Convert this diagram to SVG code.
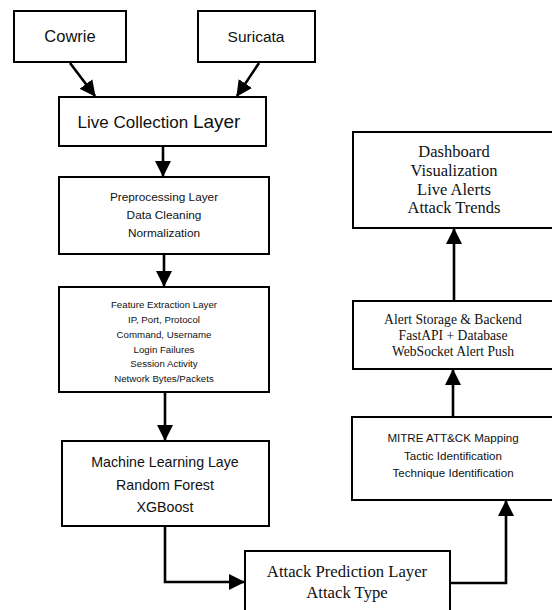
<svg xmlns="http://www.w3.org/2000/svg" width="552" height="610" viewBox="0 0 552 610">
<style>
.box{fill:#fff;stroke:#000;stroke-width:2}
.sans{font-family:"Liberation Sans",Arial,sans-serif;fill:#111;text-anchor:middle}
.serif{font-family:"Liberation Serif","Times New Roman",serif;fill:#111;text-anchor:middle}
.conn{fill:none;stroke:#000;stroke-width:2.6}
</style>
<defs>
<marker id="ah" markerUnits="userSpaceOnUse" markerWidth="16" markerHeight="16" viewBox="0 0 16 16" refX="15" refY="8" orient="auto">
<path d="M0,0 L16,8 L0,16 z" fill="#000"/>
</marker>
</defs>
<rect width="552" height="610" fill="#fff"/>
<g id="connectors">
<line class="conn" x1="70" y1="63" x2="95" y2="96" marker-end="url(#ah)"/>
<line class="conn" x1="259" y1="63" x2="237" y2="96" marker-end="url(#ah)"/>
<line class="conn" x1="163" y1="147" x2="163" y2="176" marker-end="url(#ah)"/>
<line class="conn" x1="164" y1="255" x2="164" y2="286" marker-end="url(#ah)"/>
<line class="conn" x1="165" y1="393" x2="165" y2="440" marker-end="url(#ah)"/>
<path class="conn" d="M165,527 V582 H244" marker-end="url(#ah)"/>
<path class="conn" d="M451,583 H506 V501" marker-end="url(#ah)"/>
<line class="conn" x1="453" y1="416" x2="453" y2="370" marker-end="url(#ah)"/>
<line class="conn" x1="454" y1="300" x2="454" y2="229" marker-end="url(#ah)"/>
</g>
<g id="cowrie">
<rect class="box" x="14" y="11" width="112" height="51"/>
<text class="sans" x="70" y="42" font-size="16.5">Cowrie</text>
</g>
<g id="suricata">
<rect class="box" x="198" y="11" width="117" height="51"/>
<text class="sans" x="256" y="42" font-size="15.5">Suricata</text>
</g>
<g id="live-collection">
<rect class="box" x="59" y="97" width="207" height="49"/>
<text class="sans" x="159" y="128" font-size="17">Live Collection <tspan font-size="19">Layer</tspan></text>
</g>
<g id="preprocessing">
<rect class="box" x="59" y="177" width="210" height="77"/>
<text class="sans" x="164" y="201" font-size="11.8">Preprocessing Layer</text>
<text class="sans" x="164" y="219" font-size="11.8">Data Cleaning</text>
<text class="sans" x="164" y="237" font-size="11.8">Normalization</text>
</g>
<g id="feature-extraction">
<rect class="box" x="59" y="287" width="210" height="105"/>
<text class="sans" x="164" y="308" font-size="9.7">Feature Extraction Layer</text>
<text class="sans" x="164" y="323" font-size="9.7">IP, Port, Protocol</text>
<text class="sans" x="164" y="338" font-size="9.7">Command, Username</text>
<text class="sans" x="164" y="352.5" font-size="9.7">Login Failures</text>
<text class="sans" x="164" y="367" font-size="9.7">Session Activity</text>
<text class="sans" x="164" y="382" font-size="9.7">Network Bytes/Packets</text>
</g>
<g id="machine-learning">
<rect class="box" x="62" y="441" width="207" height="85"/>
<text class="sans" x="165" y="467" font-size="14.2">Machine Learning Laye</text>
<text class="sans" x="165" y="490" font-size="14.2">Random Forest</text>
<text class="sans" x="165" y="512" font-size="14.2">XGBoost</text>
</g>
<g id="attack-prediction">
<rect class="box" x="245" y="551" width="205" height="70"/>
<text class="serif" x="347" y="577" font-size="16.7">Attack Prediction Layer</text>
<text class="serif" x="347" y="598" font-size="16.7">Attack Type</text>
</g>
<g id="mitre">
<rect class="box" x="352" y="417" width="201" height="83"/>
<text class="sans" x="453" y="442" font-size="11.6">MITRE ATT&amp;CK Mapping</text>
<text class="sans" x="453" y="459.5" font-size="11.6">Tactic Identification</text>
<text class="sans" x="453" y="477" font-size="11.6">Technique Identification</text>
</g>
<g id="alert-storage">
<rect class="box" x="353" y="301" width="200" height="68"/>
<text class="serif" x="453" y="324" font-size="13.6">Alert Storage &amp; Backend</text>
<text class="serif" x="453" y="340" font-size="13.6">FastAPI + Database</text>
<text class="serif" x="453" y="356" font-size="13.6">WebSocket Alert Push</text>
</g>
<g id="dashboard">
<rect class="box" x="353" y="132" width="200" height="96"/>
<text class="serif" x="454" y="157" font-size="16.5">Dashboard</text>
<text class="serif" x="454" y="176" font-size="16.5">Visualization</text>
<text class="serif" x="454" y="195" font-size="16.5">Live Alerts</text>
<text class="serif" x="454" y="213" font-size="16.5">Attack Trends</text>
</g>
</svg>
